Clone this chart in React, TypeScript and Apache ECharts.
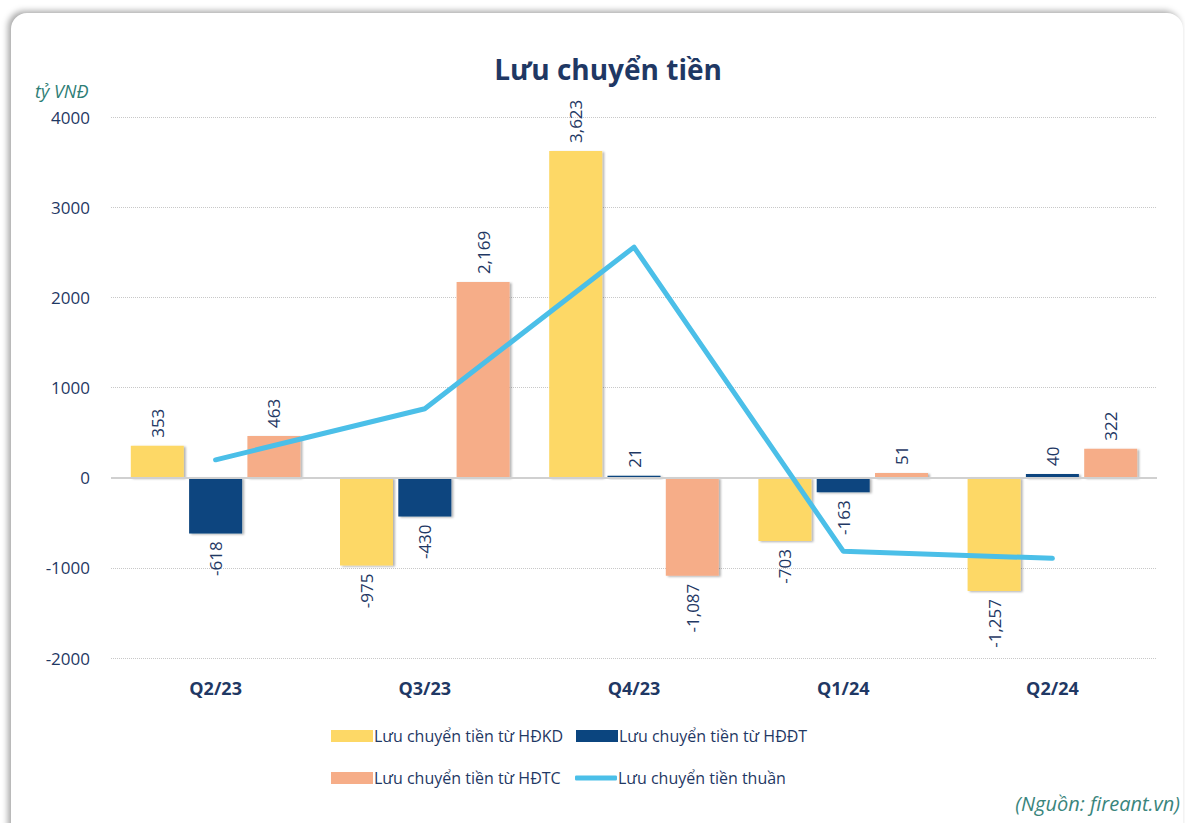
import React, { useEffect, useRef } from "react";
import * as echarts from "echarts";

const categories = ["Q2/23", "Q3/23", "Q4/23", "Q1/24", "Q2/24"];
const hdkd = [353, -975, 3623, -703, -1257];
const hddt = [-618, -430, 21, -163, 40];
const hdtc = [463, 2169, -1087, 51, 322];
const netFlow = [198, 764, 2557, -815, -895];
const yTicks = { min: -2000, max: 4000, interval: 1000 };

const names = [
  "Lưu chuyển tiền từ HĐKD",
  "Lưu chuyển tiền từ HĐĐT",
  "Lưu chuyển tiền từ HĐTC",
  "Lưu chuyển tiền thuần",
];
const colors = ["#FDD866", "#0B457F", "#F6AD88", "#4BBFE8"];
const NAVY = "#1F3864";
const FONT = "'Open Sans', 'Noto Sans', sans-serif";

function barData(vals: number[]) {
  return vals.map((v) => ({
    value: v,
    label: {
      position: v >= 0 ? "top" : "bottom",
      align: v >= 0 ? "left" : "right",
    },
  }));
}

export default function App() {
  const ref = useRef<HTMLDivElement>(null);
  useEffect(() => {
    if (!ref.current) return;
    const chart = echarts.init(ref.current, undefined, { renderer: "svg" });
    const labelCommon = {
      show: true,
      rotate: 90,
      distance: 8,
      verticalAlign: "middle",
      color: NAVY,
      fontSize: 17,
      fontFamily: FONT,
      formatter: (p: any) => Number(p.value).toLocaleString("en-US"),
    };
    const barCommon = (i: number, vals: number[]) => ({
      name: names[i],
      type: "bar",
      barWidth: 53,
      barGap: "10%",
      data: barData(vals),
      itemStyle: {
        color: colors[i],
        shadowColor: "rgba(0,0,0,0.3)",
        shadowBlur: 2,
        shadowOffsetX: 2,
        shadowOffsetY: 1,
      },
      label: labelCommon,
      z: 2,
    });
    const legendItem = (i: number, left: number, top: number, isLine = false) => ({
      data: [names[i]],
      left,
      top,
      icon: isLine ? "roundRect" : "rect",
      itemWidth: 42,
      itemHeight: isLine ? 5 : 12,
      itemGap: 5,
      textStyle: { color: NAVY, fontSize: 16, fontFamily: FONT, padding: [0, 0, 0, -4] },
      selectedMode: false,
    });
    chart.setOption({
      animation: false,
      textStyle: { fontFamily: FONT },
      title: {
        text: "Lưu chuyển tiền",
        left: 603,
        top: 50,
        textAlign: "center",
        textStyle: { color: NAVY, fontSize: 28, fontWeight: "bold", fontFamily: FONT },
      },
      graphic: [
        {
          type: "text",
          left: 35,
          top: 82,
          style: {
            text: "tỷ VNĐ",
            fill: "#2E7D75",
            font: `italic 18px ${FONT}`,
          },
        },
        {
          type: "text",
          right: 5,
          top: 793,
          style: {
            text: "(Nguồn: fireant.vn)",
            fill: "#3A857C",
            font: `italic 20px ${FONT}`,
          },
        },
      ],
      legend: [
        legendItem(0, 326, 723),
        legendItem(1, 571, 723),
        legendItem(2, 326, 765),
        legendItem(3, 570, 765, true),
      ],
      grid: { left: 111, right: 28, top: 117, bottom: 165 },
      xAxis: {
        type: "category",
        data: categories,
        axisLine: { show: false, onZero: false },
        axisTick: { show: false },
        axisLabel: { color: NAVY, fontSize: 18, fontWeight: "bold", margin: 21, fontFamily: FONT },
      },
      yAxis: {
        type: "value",
        min: yTicks.min,
        max: yTicks.max,
        interval: yTicks.interval,
        axisLine: { show: false },
        axisTick: { show: false },
        axisLabel: { color: NAVY, fontSize: 17, margin: 21, fontFamily: FONT, formatter: (v: number) => String(v) },
        splitLine: { lineStyle: { color: "#C8C8C8", type: "dotted", width: 1 } },
      },
      series: [
        {
          ...barCommon(0, hdkd),
          markLine: {
            silent: true,
            symbol: ["none", "none"],
            label: { show: false },
            lineStyle: { color: "#D0D0D0", width: 2, type: "solid" },
            data: [{ yAxis: 0 }],
          },
        },
        barCommon(1, hddt),
        barCommon(2, hdtc),
        {
          name: names[3],
          type: "line",
          data: netFlow,
          showSymbol: false,
          symbol: "none",
          itemStyle: { color: colors[3] },
          lineStyle: { color: colors[3], width: 5, cap: "round", join: "round" },
          z: 5,
        },
      ],
    });
    return () => chart.dispose();
  }, []);

  return (
    <div style={{ position: "fixed", left: 0, top: 0, width: 1185, height: 823, background: "#fff", overflow: "hidden" }}>
      <div
        style={{
          position: "absolute",
          left: 11,
          top: 13,
          width: 1172,
          height: 860,
          borderRadius: 16,
          background: "#fff",
          boxShadow: "-3px -2px 6px rgba(0,0,0,0.35)",
        }}
      />
      <div ref={ref} style={{ position: "absolute", left: 0, top: 0, width: 1185, height: 823 }} />
    </div>
  );
}
